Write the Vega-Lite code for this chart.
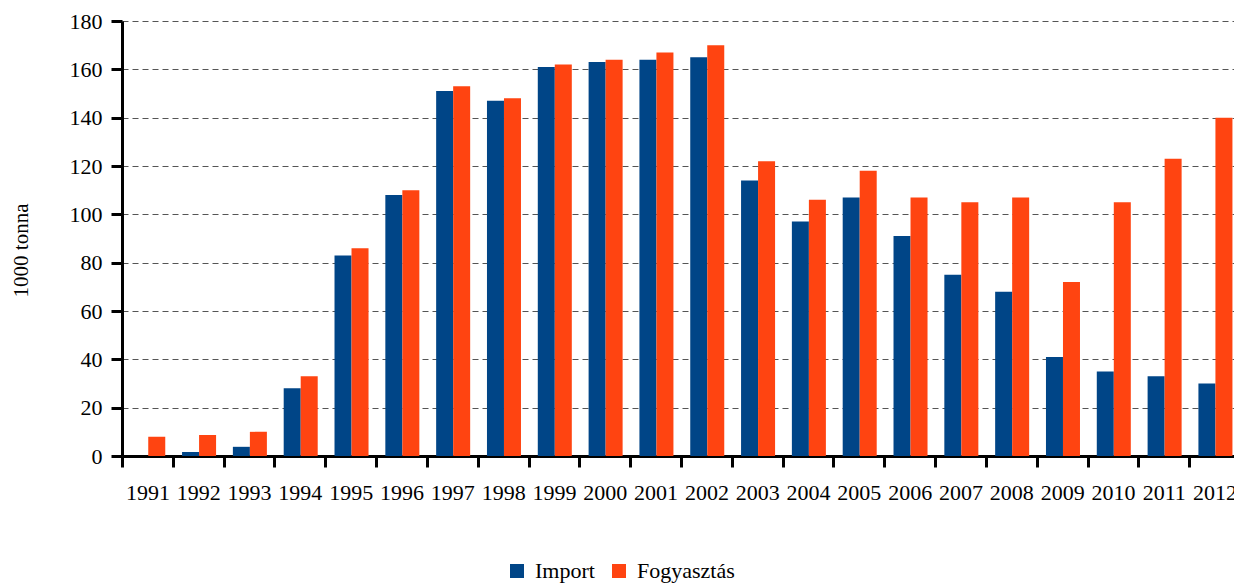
{
  "$schema": "https://vega.github.io/schema/vega-lite/v6.json",
  "width": 1112,
  "height": 435,
  "autosize": {"type": "none"},
  "padding": {"left": 122, "top": 21, "right": 0, "bottom": 127},
  "background": "white",
  "config": {"view": {"stroke": null}},
  "data": {
    "values": [
      {"year": "1991", "series": "Import", "value": 0},
      {"year": "1991", "series": "Fogyasztás", "value": 8},
      {"year": "1992", "series": "Import", "value": 1.7},
      {"year": "1992", "series": "Fogyasztás", "value": 8.7},
      {"year": "1993", "series": "Import", "value": 3.8},
      {"year": "1993", "series": "Fogyasztás", "value": 10},
      {"year": "1994", "series": "Import", "value": 28},
      {"year": "1994", "series": "Fogyasztás", "value": 33},
      {"year": "1995", "series": "Import", "value": 83},
      {"year": "1995", "series": "Fogyasztás", "value": 86},
      {"year": "1996", "series": "Import", "value": 108},
      {"year": "1996", "series": "Fogyasztás", "value": 110},
      {"year": "1997", "series": "Import", "value": 151},
      {"year": "1997", "series": "Fogyasztás", "value": 153},
      {"year": "1998", "series": "Import", "value": 147},
      {"year": "1998", "series": "Fogyasztás", "value": 148},
      {"year": "1999", "series": "Import", "value": 161},
      {"year": "1999", "series": "Fogyasztás", "value": 162},
      {"year": "2000", "series": "Import", "value": 163},
      {"year": "2000", "series": "Fogyasztás", "value": 164},
      {"year": "2001", "series": "Import", "value": 164},
      {"year": "2001", "series": "Fogyasztás", "value": 167},
      {"year": "2002", "series": "Import", "value": 165},
      {"year": "2002", "series": "Fogyasztás", "value": 170},
      {"year": "2003", "series": "Import", "value": 114},
      {"year": "2003", "series": "Fogyasztás", "value": 122},
      {"year": "2004", "series": "Import", "value": 97},
      {"year": "2004", "series": "Fogyasztás", "value": 106},
      {"year": "2005", "series": "Import", "value": 107},
      {"year": "2005", "series": "Fogyasztás", "value": 118},
      {"year": "2006", "series": "Import", "value": 91},
      {"year": "2006", "series": "Fogyasztás", "value": 107},
      {"year": "2007", "series": "Import", "value": 75},
      {"year": "2007", "series": "Fogyasztás", "value": 105},
      {"year": "2008", "series": "Import", "value": 68},
      {"year": "2008", "series": "Fogyasztás", "value": 107},
      {"year": "2009", "series": "Import", "value": 41},
      {"year": "2009", "series": "Fogyasztás", "value": 72},
      {"year": "2010", "series": "Import", "value": 35},
      {"year": "2010", "series": "Fogyasztás", "value": 105},
      {"year": "2011", "series": "Import", "value": 33},
      {"year": "2011", "series": "Fogyasztás", "value": 123},
      {"year": "2012", "series": "Import", "value": 30},
      {"year": "2012", "series": "Fogyasztás", "value": 140}
    ]
  },
  "mark": {"type": "bar"},
  "encoding": {
    "x": {
      "field": "year",
      "type": "nominal",
      "sort": null,
      "scale": {"range": [0, 1118], "paddingInner": 0, "paddingOuter": 0},
      "axis": {
        "title": null,
        "labelAngle": 0,
        "labelFont": "Liberation Serif",
        "labelFontSize": 22,
        "labelColor": "black",
        "labelPadding": 15,
        "labelOverlap": false,
        "tickBand": "extent",
        "tickSize": 11,
        "tickWidth": 3,
        "tickColor": "black",
        "domainWidth": 3,
        "domainColor": "black",
        "grid": false
      }
    },
    "xOffset": {
      "field": "series",
      "type": "nominal",
      "sort": ["Import", "Fogyasztás"],
      "scale": {"paddingInner": 0, "paddingOuter": 0.494, "align": 0.55}
    },
    "y": {
      "field": "value",
      "type": "quantitative",
      "scale": {"domain": [0, 180], "nice": false},
      "axis": {
        "title": "1000 tonna",
        "titleFont": "Liberation Serif",
        "titleFontSize": 21,
        "titleFontWeight": "normal",
        "titleColor": "black",
        "titleAngle": -90,
        "titleBaseline": "alphabetic",
        "titleAlign": "center",
        "titleX": -95,
        "titleY": 229,
        "values": [0, 20, 40, 60, 80, 100, 120, 140, 160, 180],
        "labelFont": "Liberation Serif",
        "labelFontSize": 22,
        "labelColor": "black",
        "labelPadding": 9,
        "tickSize": 11,
        "tickWidth": 3,
        "tickColor": "black",
        "domainWidth": 3,
        "domainColor": "black",
        "grid": true,
        "gridColor": "#555555",
        "gridDash": [6, 4],
        "gridWidth": 1
      }
    },
    "color": {
      "field": "series",
      "type": "nominal",
      "sort": ["Import", "Fogyasztás"],
      "scale": {"domain": ["Import", "Fogyasztás"], "range": ["#004587", "#FF4411"]},
      "legend": {
        "title": null,
        "orient": "none",
        "legendX": 384,
        "legendY": 539,
        "direction": "horizontal",
        "symbolType": "square",
        "symbolSize": 196,
        "symbolStrokeWidth": 0,
        "labelFont": "Liberation Serif",
        "labelFontSize": 22,
        "labelColor": "black",
        "labelOffset": 7,
        "columnPadding": 13,
        "padding": 0
      }
    }
  }
}
